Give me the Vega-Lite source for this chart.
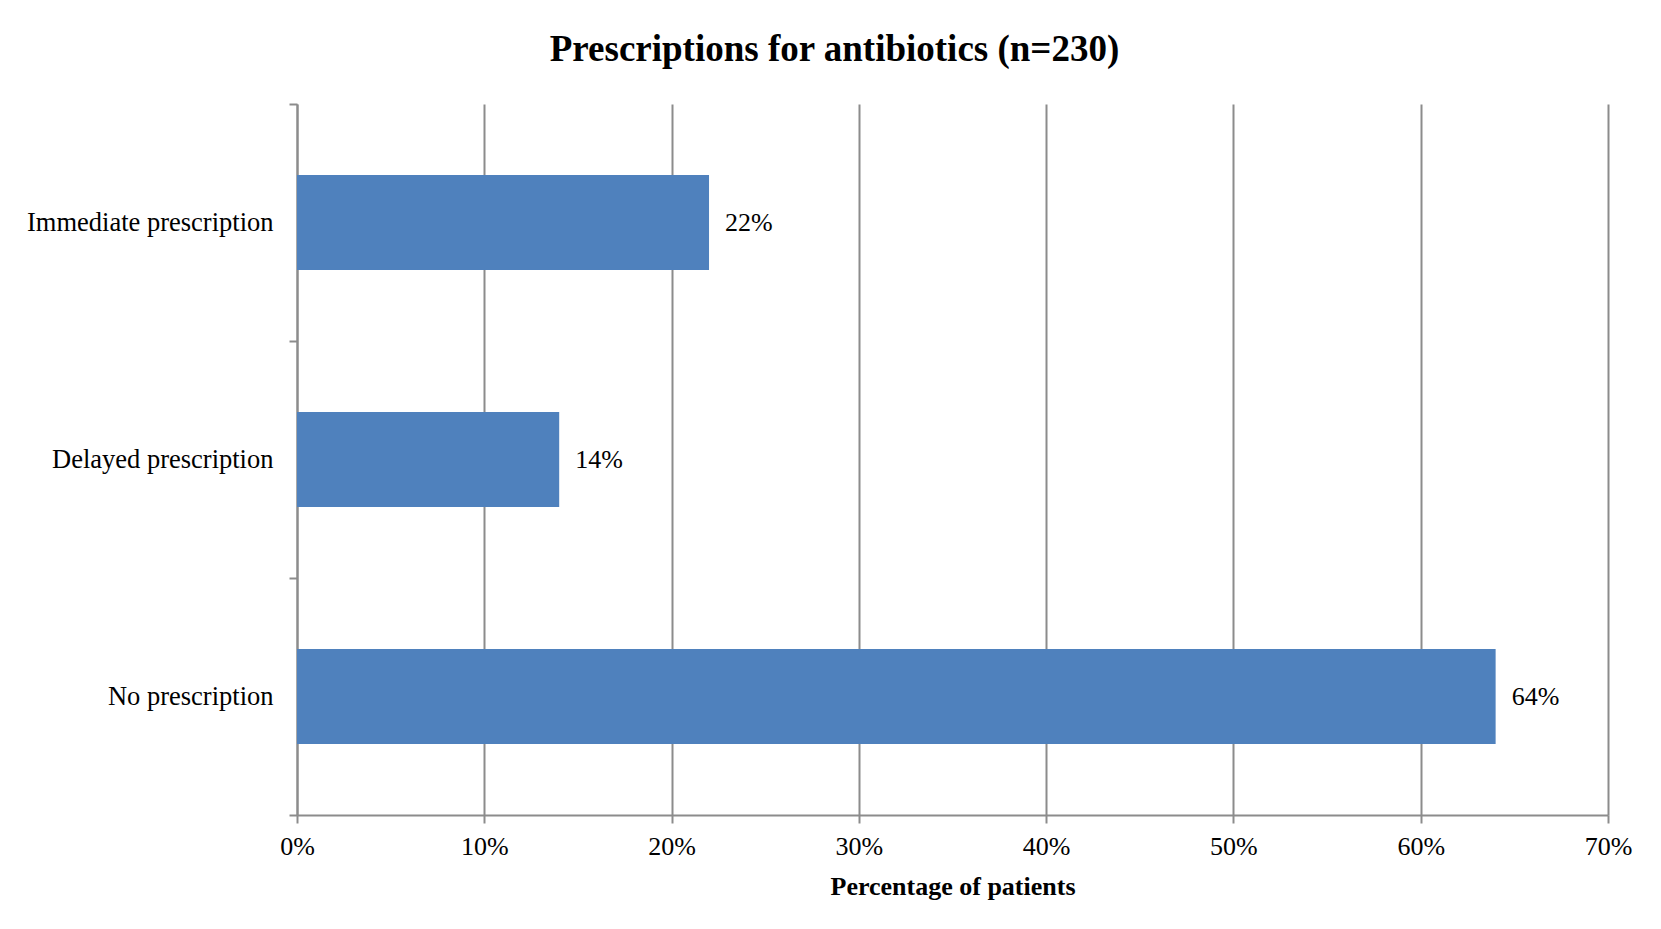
{
  "$schema": "https://vega.github.io/schema/vega-lite/v6.json",
  "width": 1311,
  "height": 711,
  "autosize": {"type": "none"},
  "padding": {"left": 297, "top": 104, "right": 53, "bottom": 114},
  "background": "white",
  "title": {
    "text": "Prescriptions for antibiotics (n=230)",
    "font": "Liberation Serif",
    "fontSize": 37,
    "fontWeight": "bold",
    "color": "black",
    "anchor": "middle",
    "frame": "group",
    "dx": -118,
    "baseline": "alphabetic",
    "offset": 42,
    "dy": 49
  },
  "config": {
    "view": {"stroke": null},
    "font": "Liberation Serif"
  },
  "data": {
    "values": [
      {"category": "Immediate prescription", "share": 0.22},
      {"category": "Delayed prescription", "share": 0.14},
      {"category": "No prescription", "share": 0.64}
    ]
  },
  "encoding": {
    "y": {
      "field": "category",
      "type": "nominal",
      "sort": ["Immediate prescription", "Delayed prescription", "No prescription"],
      "scale": {"paddingInner": 0, "paddingOuter": 0},
      "axis": {
        "title": null,
        "tickBand": "extent",
        "tickSize": 8,
        "tickColor": "#8c8c8c",
        "tickWidth": 2,
        "domainColor": "#8c8c8c",
        "domainWidth": 2,
        "labelFont": "Liberation Serif",
        "labelFontSize": 26.5,
        "labelColor": "black",
        "labelPadding": 16,
        "labelLimit": 500,
        "grid": false
      }
    },
    "x": {
      "field": "share",
      "type": "quantitative",
      "scale": {"domain": [0, 0.7], "nice": false},
      "axis": {
        "title": "Percentage of patients",
        "titleFont": "Liberation Serif",
        "titleFontSize": 26,
        "titleFontWeight": "bold",
        "titleColor": "black",
        "titlePadding": 14,
        "format": ".0%",
        "values": [0, 0.1, 0.2, 0.3, 0.4, 0.5, 0.6, 0.7],
        "labelFlush": false,
        "labelFont": "Liberation Serif",
        "labelFontSize": 26,
        "labelColor": "black",
        "labelPadding": 10,
        "tickSize": 8,
        "tickColor": "#8c8c8c",
        "tickWidth": 2,
        "domainColor": "#8c8c8c",
        "domainWidth": 2,
        "grid": true,
        "gridColor": "#8c8c8c",
        "gridWidth": 2
      }
    }
  },
  "layer": [
    {"mark": {"type": "bar", "color": "#4f81bd", "height": {"band": 0.4}}},
    {
      "mark": {"type": "text", "align": "left", "baseline": "middle", "dx": 16, "font": "Liberation Serif", "fontSize": 26, "color": "black"},
      "encoding": {"text": {"field": "share", "type": "quantitative", "format": ".0%"}}
    }
  ]
}
